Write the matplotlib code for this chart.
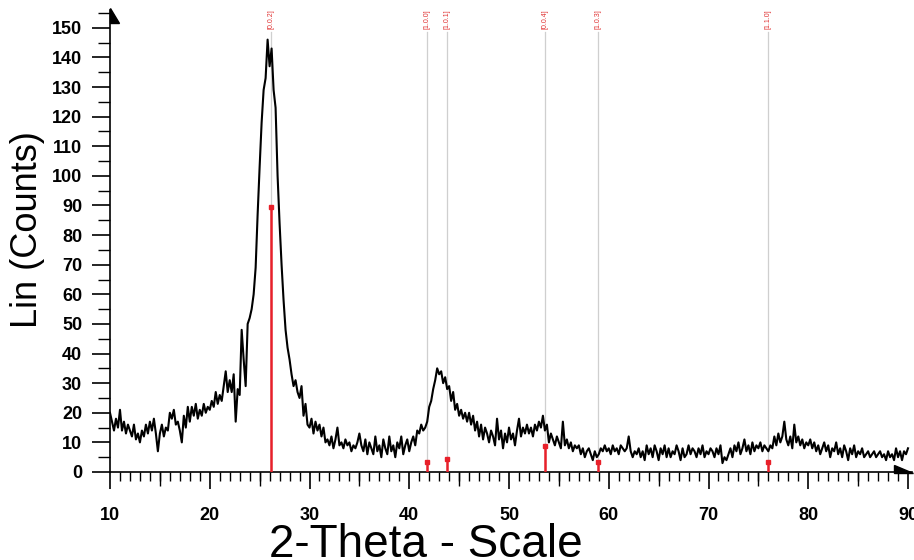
import numpy as np
import matplotlib
matplotlib.use('Agg')
import matplotlib.pyplot as plt
from matplotlib.patches import Polygon
from matplotlib.ticker import MultipleLocator

# measured XRD pattern, 10..90 deg 2-theta, step 0.2
two_theta_start = 10.0
two_theta_step = 0.2
counts = [
    20, 17, 14, 18, 15,   21, 14, 17, 13, 16,   14, 12, 16, 11, 13,   10, 14, 12, 16, 13,
    17, 14, 18, 13, 7,    13, 16, 12, 15, 14,   20, 18, 21, 16, 17,   14, 10, 19, 15, 22,
    17, 22, 19, 23, 18,   21, 19, 23, 20, 22,   21, 24, 22, 27, 23,   26, 24, 29, 34, 27,
    31, 27, 33, 17, 28,   26, 48, 38, 29, 50,   52, 55, 60, 69, 87,   103, 118, 129, 133, 146,
    137, 143, 129, 123, 100,   84, 70, 58, 48, 42,   38, 33, 29, 31, 27,   25, 29, 19, 23, 16,
    15, 18, 13, 17, 14,   16, 12, 15, 10, 11,   9, 12, 8, 11, 15,   9, 10, 8, 11, 9,
    10, 7, 9, 8, 10,   13, 9, 7, 11, 6,   10, 8, 6, 12, 7,   9, 5, 11, 8, 6,
    12, 7, 9, 5, 10,   8, 12, 6, 9, 11,   7, 10, 12, 9, 14,   13, 16, 14, 15, 17,
    22, 24, 28, 31, 35,   33, 34, 30, 32, 28,   29, 24, 27, 21, 23,   19, 21, 18, 20, 17,
    20, 16, 19, 14, 17,   12, 16, 11, 15, 13,   10, 14, 12, 9, 18,   11, 14, 8, 13, 10,
    15, 11, 13, 9, 14,   18, 12, 15, 13, 16,   13, 15, 12, 16, 14,   17, 15, 19, 14, 16,
    10, 13, 11, 9, 12,   10, 8, 17, 9, 11,   8, 10, 7, 9, 8,   9, 6, 8, 5, 7,
    8, 6, 4, 7, 5,   6, 8, 7, 9, 7,   8, 6, 9, 7, 8,   6, 9, 8, 7, 8,
    12, 7, 5, 7, 6,   8, 5, 7, 4, 9,   6, 8, 5, 9, 7,   4, 8, 6, 9, 5,
    8, 5, 7, 6, 9,   7, 4, 8, 5, 6,   9, 6, 8, 7, 5,   8, 6, 9, 5, 7,
    6, 8, 7, 5, 8,   6, 9, 3, 5, 4,   6, 8, 5, 9, 7,   10, 6, 8, 11, 7,
    9, 6, 10, 7, 9,   8, 10, 7, 9, 8,   7, 9, 8, 12, 9,   13, 10, 12, 17, 11,
    9, 12, 8, 16, 10,   12, 9, 11, 8, 10,   9, 11, 8, 10, 7,   9, 6, 8, 10, 7,
    9, 5, 8, 7, 10,   6, 8, 5, 9, 7,   4, 8, 6, 9, 5,   7, 6, 8, 5, 6,
    7, 5, 6, 7, 5,   6, 7, 5, 6, 4,   7, 5, 6, 4, 8,   5, 7, 4, 7, 6,
    8,
]
two_theta = two_theta_start + two_theta_step * np.arange(len(counts))

# reference reflections (graphite)
ref_pos = [26.1, 41.8, 43.8, 53.6, 58.9, 76.0]
ref_int = [89.5, 3.5, 4.4, 8.9, 3.5, 3.5]
ref_hkl = ['[0.0.2]', '[1.0.0]', '[1.0.1]', '[0.0.4]', '[1.0.3]', '[1.1.0]']

plt.rcParams['font.family'] = ['Liberation Sans', 'DejaVu Sans']

W, H = 914, 560
fig = plt.figure(figsize=(W / 100, H / 100), dpi=100)
ax = fig.add_axes([110 / W, 88 / H, 802 / W, 462 / H])

ax.set_xlim(10, 90.4)
ax.set_ylim(0, 156)

# light grey reference lines with labels on top
for p, lab in zip(ref_pos, ref_hkl):
    ax.plot([p, p], [0, 148.5], color='#cfcfcf', lw=0.9, zorder=1)
    ax.text(p, 153, lab, rotation=90, ha='center', va='center',
            fontsize=5, color='#e03030', clip_on=False)

ax.plot(two_theta, counts, color='black', lw=1.5, zorder=3)

# red sticks
for p, v in zip(ref_pos, ref_int):
    ax.plot([p, p], [0, v], color='#e8202a', lw=1.8, zorder=4)
    ax.plot([p], [v], marker='s', ms=3.2, color='#e8202a', zorder=4)

for s in ['top', 'right']:
    ax.spines[s].set_visible(False)
for s in ['left', 'bottom']:
    ax.spines[s].set_linewidth(1.2)

ax.xaxis.set_minor_locator(MultipleLocator(1))
ax.yaxis.set_minor_locator(MultipleLocator(5))
ax.set_xticks([10, 20, 30, 40, 50, 60, 70, 80, 90])
ax.set_yticks(np.arange(0, 151, 10))

ax.tick_params(axis='x', which='major', direction='out', length=12.5, width=1.2,
               pad=13, labelsize=13)
ax.tick_params(axis='x', which='minor', direction='out', length=6.5, width=1.0)
ax.tick_params(axis='y', which='major', direction='out', length=13, width=1.2,
               pad=7, labelsize=13)
ax.tick_params(axis='y', which='minor', direction='out', length=8.5, width=1.0)
for lab in ax.get_xticklabels() + ax.get_yticklabels():
    lab.set_fontweight('bold')

# medium ticks at the fives on the x axis
ax.plot(np.arange(15, 90, 10), np.zeros(8), linestyle='none', marker=3,
        ms=10, mew=1.0, color='black', clip_on=False)

# arrow heads on the axes
fig.patches.append(Polygon([(110 / W, 1 - 8 / H), (110 / W, 1 - 23 / H), (119 / W, 1 - 23 / H)],
                           closed=True, color='black', transform=fig.transFigure))
fig.patches.append(Polygon([(894 / W, 1 - 465 / H), (894 / W, 1 - 473 / H), (913 / W, 1 - 473 / H)],
                           closed=True, color='black', transform=fig.transFigure))

fig.text(28 / W, 1 - 230 / H, 'Lin (Counts)', rotation=90, ha='center', va='center', fontsize=26)
fig.text(426 / W, 1 - 545 / H, '2-Theta - Scale', ha='center', va='center', fontsize=33)

fig.savefig('out.png', dpi=100, facecolor='white')
